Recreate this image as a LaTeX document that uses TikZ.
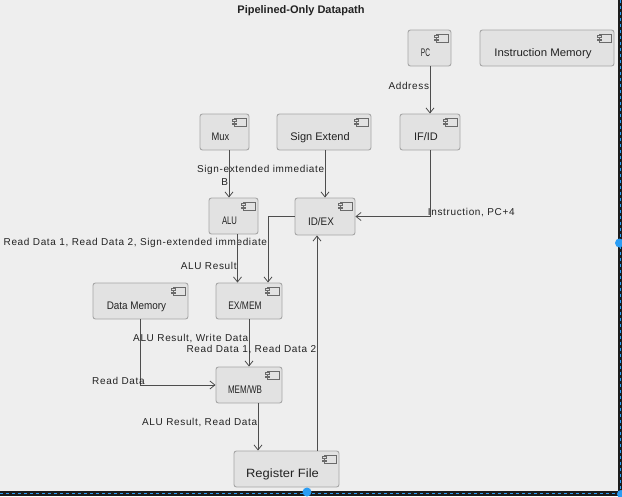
\documentclass[tikz,border=0pt]{standalone}
\usepackage{fontspec}
\setmainfont{Liberation Sans}
\usetikzlibrary{arrows.meta}
\definecolor{bg}{HTML}{EEEEEE}
\definecolor{boxfill}{HTML}{E2E2E2}
\definecolor{boxdraw}{HTML}{A6A6A6}
\definecolor{edgec}{HTML}{4D4D4D}
\definecolor{iconc}{HTML}{6A6A6A}
\definecolor{txt}{HTML}{222222}
\definecolor{frame}{HTML}{1C1C1C}
\definecolor{selblue}{HTML}{2A9DF4}
\tikzset{
  blk/.style={draw=boxdraw, fill=boxfill, rounded corners=2.5pt, line width=0.9pt,
    minimum height=36pt, inner sep=0pt, text=txt,
    font=\fontsize{11}{13}\selectfont, text height=17pt, text depth=0pt,
    execute at begin node=\hspace*{-8pt}},
  conn/.style={draw=edgec, line width=0.8pt, -{Straight Barb[length=5pt,width=8pt]}},
  lbl/.style={font=\fontsize{10}{12}\selectfont\addfontfeature{LetterSpace=6.5}, text=txt, inner sep=0.5pt},
}
\newcommand\compicon[1]{%
  \draw[iconc, line width=0.5pt, fill=boxfill]
    ([xshift=-15.5pt,yshift=-4.5pt]#1.north east) rectangle ([xshift=-3.5pt,yshift=-12.5pt]#1.north east);
  \draw[iconc, line width=0.5pt, fill=boxfill]
    ([xshift=-17.5pt,yshift=-6pt]#1.north east) rectangle ([xshift=-13.5pt,yshift=-7.5pt]#1.north east);
  \draw[iconc, line width=0.5pt, fill=boxfill]
    ([xshift=-17.5pt,yshift=-9.5pt]#1.north east) rectangle ([xshift=-13.5pt,yshift=-11pt]#1.north east);
}
\begin{document}
\begin{tikzpicture}[x=1pt, y=-1pt]
  \useasboundingbox (0,0) rectangle (622,496);
  \fill[bg] (0,0) rectangle (622,496);
  % window frame strips
  \fill[frame] (618,0) rectangle (622,496);
  \fill[frame] (0,491) rectangle (622,496);
  \draw[selblue, dashed, dash pattern=on 3pt off 3pt, line width=0.8pt] (620,0) -- (620,493) -- (0,493);

  \node[font=\bfseries\fontsize{11}{13}\selectfont, text=txt] (title) at (301,11) {Pipelined-Only Datapath};

  \node[blk, minimum width=43pt] (pc) at (429.5,48) {\scalebox{0.6}[1]{PC}};
  \node[blk, minimum width=134pt] (im) at (547,48) {\scalebox{1.04}[1]{Instruction Memory}};
  \node[blk, minimum width=60pt] (ifid) at (430,132) {IF/ID};
  \node[blk, minimum width=49pt] (mux) at (224.5,132) {\scalebox{0.85}[1]{Mux}};
  \node[blk, minimum width=94pt] (sext) at (324,132) {Sign Extend};
  \node[blk, minimum width=49pt] (alu) at (233.5,216) {\scalebox{0.7}[1]{ALU}};
  \node[blk, minimum width=60pt, minimum height=37pt] (idex) at (325,216.5) {\scalebox{0.9}[1]{ID/EX}};
  \node[blk, minimum width=95pt] (dmem) at (140.5,301) {\scalebox{0.9}[1]{Data Memory}};
  \node[blk, minimum width=66pt] (exmem) at (249,301) {\scalebox{0.77}[1]{EX/MEM}};
  \node[blk, minimum width=66pt] (memwb) at (249,385) {\scalebox{0.73}[1]{MEM/WB}};
  \node[blk, minimum width=105pt, font=\fontsize{12}{14}\selectfont] (rf) at (286.5,469) {\scalebox{1.08}[1]{Register File}};

  \foreach \n in {pc,im,ifid,mux,sext,alu,idex,dmem,exmem,memwb,rf} {\compicon{\n}}

  % connectors
  \draw[conn] (ifid.north |- pc.south) -- node[lbl, pos=0.42, anchor=east] {Address} (ifid.north);
  \draw[conn] (ifid.south) |- node[lbl, pos=0.5, anchor=west, xshift=-3pt, yshift=4pt] {Instruction, PC+4} (idex.east);
  \draw[conn] ([xshift=4.5pt]mux.south) -- node[lbl, pos=0.67, anchor=east] {B} ([xshift=-4.5pt]alu.north);
  \draw[conn] (idex.north |- sext.south) -- node[lbl, pos=0.42, anchor=east] {Sign-extended immediate} (idex.north);
  \draw[conn] (idex.west) -| node[lbl, pos=0.7, anchor=east] {Read Data 1, Read Data 2, Sign-extended immediate} ([xshift=19pt]exmem.north);
  \draw[conn] ([xshift=4pt]alu.south) -- node[lbl, pos=0.65, anchor=east] {ALU Result} ([xshift=4pt]alu.south |- exmem.north);
  \draw[conn] (dmem.south) |- node[lbl, pos=0.5, anchor=east, xshift=5pt, yshift=4pt] {Read Data} (memwb.west);
  \draw[conn] (exmem.south) -- node[lbl, pos=0.4, anchor=east] {ALU Result, Write Data} (memwb.north);
  \draw[conn] ([xshift=9pt]memwb.south) -- node[lbl, pos=0.4, anchor=east] {ALU Result, Read Data} ([xshift=9pt]memwb.south |- rf.north);
  \draw[conn] ([xshift=-8pt]idex.south |- rf.north) -- node[lbl, pos=0.47, anchor=east] {Read Data 1, Read Data 2} ([xshift=-8pt]idex.south);

  % selection handles
  \fill[selblue] (619.5,243) circle (4.5pt);
  \fill[selblue] (307,492) circle (4.5pt);
  \fill[selblue] (621,494) circle (4pt);
\end{tikzpicture}
\end{document}
